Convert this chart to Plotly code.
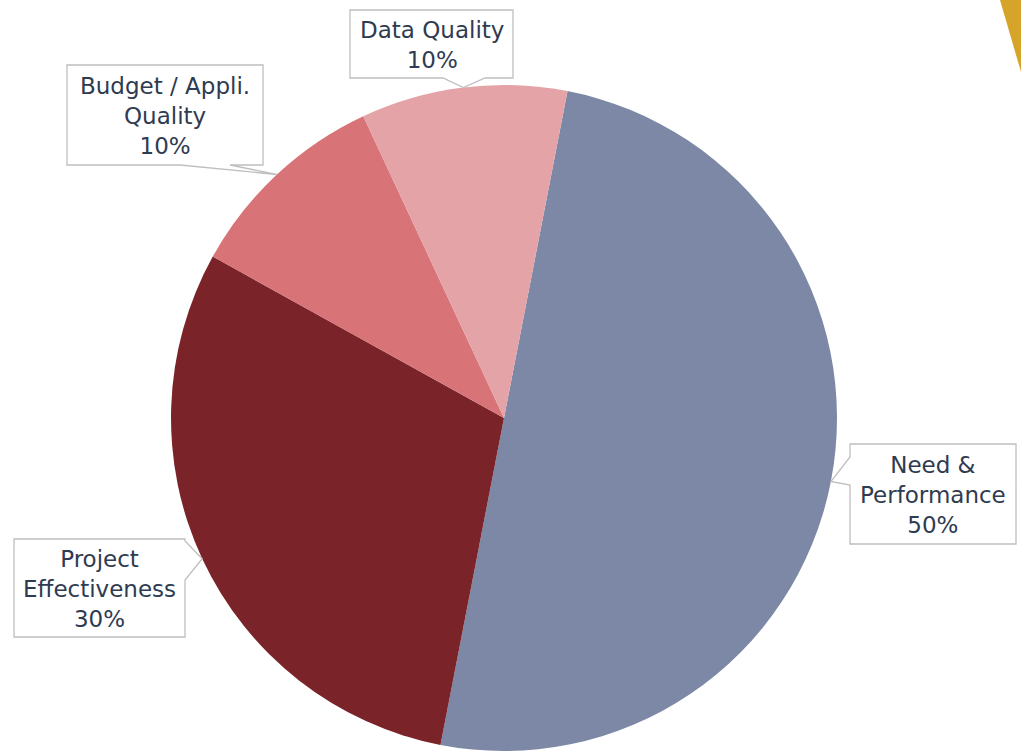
import math
import plotly.graph_objects as go

# ---- data ----
categories = ["Need &<br>Performance", "Project<br>Effectiveness", "Budget / Appli.<br>Quality", "Data Quality"]
values = [50, 30, 10, 10]
pct_labels = ["50%", "30%", "10%", "10%"]
colors = ["#7c88a5", "#7a2329", "#d87378", "#e4a3a6"]

W, H = 1021, 752
ROT = 11  # start angle of first slice (deg clockwise from 12 o'clock)
CX, CY, R = 504, 418, 333

fig = go.Figure()
fig.add_trace(go.Pie(
    values=values, labels=[c.replace("<br>", " ") for c in categories],
    marker=dict(colors=colors, line=dict(width=0)),
    sort=False, direction="clockwise", rotation=ROT,
    textinfo="none", hoverinfo="label+percent", showlegend=False,
    domain=dict(x=[(CX - R) / W, (CX + R) / W], y=[1 - (CY + R) / H, 1 - (CY - R) / H]),
))
# invisible overlay axis for pixel-based layout of callouts
fig.add_trace(go.Scatter(x=[None], y=[None], mode="markers", showlegend=False, hoverinfo="skip"))

# tip positions on pie edge at slice mid-angles (from data)
total = sum(values)
tips = []
acc = 0
for v in values:
    mid = ROT + (acc + v / 2) / total * 360
    a = math.radians(mid)
    tips.append((CX + R * math.sin(a), CY - R * math.cos(a)))
    acc += v

# callout boxes: (x0, y0, x1, y1), side, base span
boxes = [
    ((850, 444, 1016, 544), "left", (457, 485)),
    ((14, 539, 185, 637), "right", (541, 580)),
    ((67, 65, 263, 165), "bottom", (180, 230)),
    ((350, 10, 513, 78), "bottom", (443, 485)),
]

def callout_path(box, side, base, tip):
    x0, y0, x1, y1 = box
    tx, ty = tip
    b0, b1 = base
    if side == "bottom":
        pts = [(x0, y0), (x1, y0), (x1, y1), (b1, y1), (tx, ty), (b0, y1), (x0, y1)]
    elif side == "left":
        pts = [(x0, y0), (x1, y0), (x1, y1), (x0, y1), (x0, b1), (tx, ty), (x0, b0)]
    else:  # right
        pts = [(x0, y0), (x1, y0), (x1, b0), (tx, ty), (x1, b1), (x1, y1), (x0, y1)]
    return "M " + " L ".join(f"{x:.1f},{y:.1f}" for x, y in pts) + " Z"

shapes = []
annotations = []
for i, (box, side, base) in enumerate(boxes):
    shapes.append(dict(type="path", xref="x", yref="y", layer="above",
                       path=callout_path(box, side, base, tips[i]),
                       fillcolor="white", line=dict(color="#bfbfbf", width=1.3)))
    x0, y0, x1, y1 = box
    annotations.append(dict(x=(x0 + x1) / 2, y=(y0 + y1) / 2 + 1, xref="x", yref="y",
                            text=categories[i] + "<br>" + pct_labels[i], showarrow=False,
                            font=dict(family="DejaVu Sans", size=23, color="#2f3b50"),
                            align="center"))

# decorative gold corner triangle
shapes.append(dict(type="path", xref="x", yref="y", layer="below",
                   path="M 1000,0 L 1021,0 L 1021,72 Z", fillcolor="#d6a428", line=dict(width=0)))

fig.update_layout(
    width=W, height=H, margin=dict(l=0, r=0, t=0, b=0),
    paper_bgcolor="white", plot_bgcolor="rgba(0,0,0,0)",
    xaxis=dict(range=[0, W], visible=False, fixedrange=True, domain=[0, 1]),
    yaxis=dict(range=[H, 0], visible=False, fixedrange=True, domain=[0, 1]),
    shapes=shapes, annotations=annotations,
)

fig.write_html("out.html", config={"displayModeBar": False},
               post_script="document.body.style.margin='0';document.body.style.overflow='hidden';")
